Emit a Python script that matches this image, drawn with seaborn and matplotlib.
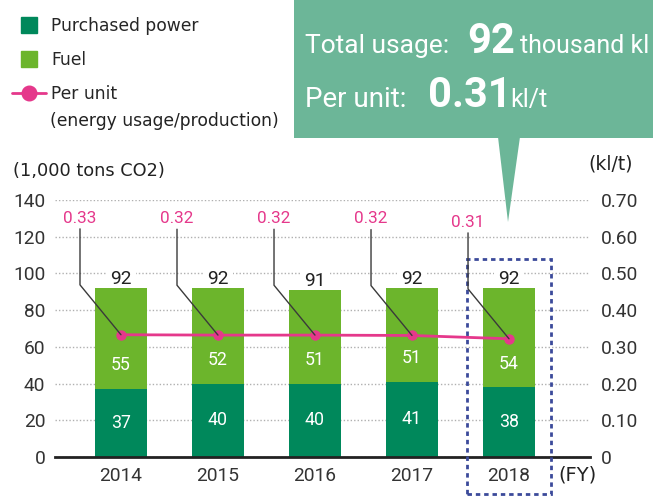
import numpy as np
import pandas as pd
import seaborn as sns
import matplotlib.pyplot as plt
from matplotlib import font_manager as fm
from matplotlib.lines import Line2D
from matplotlib.patches import Rectangle, Polygon

years = ["2014", "2015", "2016", "2017", "2018"]
purchased = [37, 40, 40, 41, 38]
fuel = [55, 52, 51, 51, 54]
totals = [92, 92, 91, 92, 92]
per_unit = [0.333, 0.332, 0.332, 0.331, 0.322]
per_unit_labels = ["0.33", "0.32", "0.32", "0.32", "0.31"]

POWER = "#00885b"
FUEL = "#6cb52c"
PINK = "#e5388b"
CALLOUT = "#6cb698"
TXT = "#222222"

sns.set_theme(style="white")
plt.rcParams["font.family"] = ["DejaVu Sans"]

# narrow face for the numbers if there is one, Roboto otherwise
installed = {f.name for f in fm.fontManager.ttflist}
if "Liberation Sans Narrow" in installed:
    NUM_FONT, NUM_SIZE = "Liberation Sans Narrow", 15
else:
    NUM_FONT, NUM_SIZE = "Roboto", 13.8

df = pd.DataFrame({"year": years, "purchased": purchased, "fuel": fuel, "total": totals})

W, H = 653, 497
fig = plt.figure(figsize=(W / 100, H / 100), dpi=100)
ax = fig.add_axes([55 / W, 1 - 457 / H, 535 / W, 257 / H])

sns.barplot(data=df, x="year", y="total", color=FUEL, saturation=1, width=0.54,
            linewidth=0, ax=ax, zorder=2)
sns.barplot(data=df, x="year", y="purchased", color=POWER, saturation=1, width=0.54,
            linewidth=0, ax=ax, zorder=2)

ax.set_ylim(0, 140)
ax.set_yticks(range(0, 141, 20))
ax.set_xlim(-0.68, 4.835)
ax.set_xlabel("")
ax.set_ylabel("")
ax.yaxis.grid(True, linestyle=(0, (1, 1.5)), color="#b0b0b0", lw=1)
ax.set_axisbelow(True)
for s in ["top", "left", "right"]:
    ax.spines[s].set_visible(False)
ax.spines["bottom"].set_color(TXT)
ax.spines["bottom"].set_linewidth(2)
ax.spines["bottom"].set_zorder(5)
ax.tick_params(axis="y", length=0, pad=7, labelsize=NUM_SIZE, labelcolor="#333333")
ax.tick_params(axis="x", length=0, pad=7, labelsize=NUM_SIZE, labelcolor="#333333")
for lab in ax.get_xticklabels() + ax.get_yticklabels():
    lab.set_fontfamily(NUM_FONT)

# segment labels
for i in range(len(years)):
    ax.text(i, purchased[i] / 2, str(purchased[i]), ha="center", va="center",
            color="white", fontsize=NUM_SIZE - 1, family=NUM_FONT, zorder=4)
    ax.annotate(str(fuel[i]), xy=(i, purchased[i]), xytext=(0, 17),
                textcoords="offset points", ha="center", va="center",
                color="white", fontsize=NUM_SIZE - 1, family=NUM_FONT, zorder=4)
    ax.annotate(str(totals[i]), xy=(i, totals[i]), xytext=(0, 3),
                textcoords="offset points", ha="center", va="baseline",
                color=TXT, fontsize=NUM_SIZE, family=NUM_FONT, zorder=1.5,
                bbox=dict(boxstyle="square,pad=0.2", fc="white", ec="none"))

# per unit line on the right axis
ax2 = ax.twinx()
sns.lineplot(x=np.arange(len(years)), y=per_unit, ax=ax2, color=PINK, lw=2,
             marker="o", markersize=7.5, markeredgewidth=0)
ax2.set_ylim(0, 0.70)
ax2.set_xlim(-0.68, 4.835)
ax2.set_yticks(np.arange(0, 0.71, 0.1))
ax2.set_yticklabels(["0"] + [f"{v:.2f}" for v in np.arange(0.1, 0.71, 0.1)])
ax2.set_ylabel("")
for s in ax2.spines.values():
    s.set_visible(False)
ax2.tick_params(axis="y", length=0, pad=8, labelsize=NUM_SIZE, labelcolor="#333333")
for lab in ax2.get_yticklabels():
    lab.set_fontfamily(NUM_FONT)

for i in range(len(years)):
    ax2.annotate(per_unit_labels[i], xy=(i, per_unit[i]), xytext=(-29.5, 84),
                 textcoords="offset points", ha="center", va="center",
                 color=PINK, fontsize=NUM_SIZE - 1.5, family=NUM_FONT,
                 arrowprops=dict(arrowstyle="-", color="#3a3a3a", lw=1,
                                 connectionstyle="angle,angleA=90,angleB=129.4,rad=0",
                                 shrinkA=0, shrinkB=0))

# dashed highlight box around the latest year
last = len(years) - 1
ax.add_patch(Rectangle((last - 0.43, -20), 0.86, 128, fill=False, ec="#3b4a9a",
                       lw=2, ls=(0, (1.6, 1.4)), clip_on=False, zorder=6))

# axis unit texts
fig.text(13 / W, 1 - 171 / H, "(1,000 tons CO2)", ha="left", va="center",
         fontsize=12.8, color=TXT)
fig.text(611 / W, 1 - 164 / H, "(kl/t)", ha="center", va="center",
         fontsize=13.5, color=TXT)
fig.text(577 / W, 1 - 475 / H, "(FY)", ha="center", va="center",
         fontsize=14, color=TXT)

# legend
handles = [
    Line2D([], [], ls="none", marker="s", markersize=12, color=POWER),
    Line2D([], [], ls="none", marker="s", markersize=12, color=FUEL),
    Line2D([], [], color=PINK, lw=2, marker="o", markersize=10.5),
]
fig.legend(handles, ["Purchased power", "Fuel", "Per unit"], loc="upper left",
           bbox_to_anchor=(12 / W, 1 - 17 / H), frameon=False, fontsize=12.3,
           handlelength=2.0, handletextpad=0.3, labelspacing=0.93,
           borderpad=0, borderaxespad=0)
fig.text(50 / W, 1 - 121 / H, "(energy usage/production)", ha="left", va="center",
         fontsize=12.3, color=TXT)

# callout
fig.patches.append(Rectangle((294 / W, 1 - 138 / H), (W - 294) / W + 0.01, 138 / H + 0.01,
                             transform=fig.transFigure, fc=CALLOUT, ec="none"))
fig.patches.append(Polygon([(498 / W, 1 - 137 / H), (520 / W, 1 - 137 / H), (508 / W, 1 - 222 / H)],
                           closed=True, transform=fig.transFigure, fc=CALLOUT, ec="none"))
fig.text(305 / W, 1 - 53 / H, "Total usage:", color="white", fontsize=19, family="Roboto", va="baseline")
fig.text(467 / W, 1 - 53 / H, "92", color="white", fontsize=30, family="Roboto", weight="bold", va="baseline")
fig.text(520 / W, 1 - 53 / H, "thousand kl", color="white", fontsize=18, family="Roboto", va="baseline")
fig.text(305 / W, 1 - 107 / H, "Per unit:", color="white", fontsize=20, family="Roboto", va="baseline")
fig.text(428 / W, 1 - 107 / H, "0.31", color="white", fontsize=30, family="Roboto", weight="bold", va="baseline")
fig.text(510 / W, 1 - 107 / H, "kl/t", color="white", fontsize=18, family="Roboto", va="baseline")

fig.savefig("out.png", dpi=100)
